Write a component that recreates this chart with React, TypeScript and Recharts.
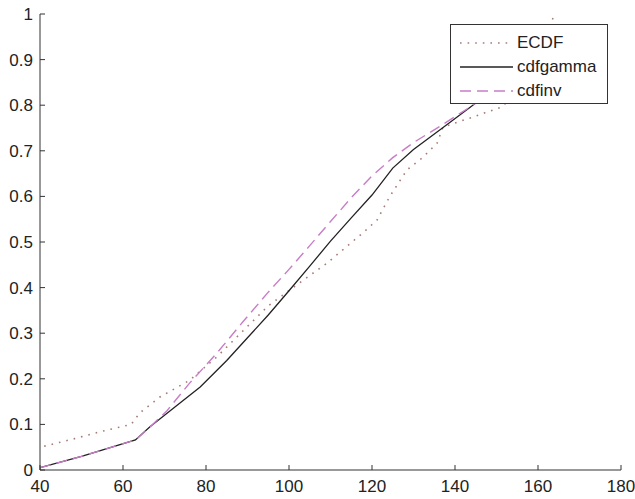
import React from 'react'
import { Legend, Line, LineChart, XAxis, YAxis } from 'recharts'

// ECDF (it runs under the legend past ~150)
const ecdfX = [41, 48, 54.5, 62, 64, 68.9, 76.1, 82.6, 89.9, 95, 100.2, 109.2, 117.8, 121.2, 124.3, 128.4, 132.3, 135.7, 137.1, 144.3, 147.7, 151.3, 157, 161, 164]
const ecdfY = [0.052, 0.068, 0.084, 0.1, 0.125, 0.16, 0.197, 0.248, 0.314, 0.36, 0.395, 0.454, 0.52, 0.548, 0.6, 0.658, 0.686, 0.717, 0.752, 0.774, 0.785, 0.796, 0.85, 0.93, 1]

const gammaX = [40, 50, 63, 66.5, 70, 78.6, 85, 90, 95, 100, 105, 110, 115, 120, 125, 130, 136.4, 144.3, 150, 160, 165]
const gammaY = [0.005, 0.03, 0.066, 0.095, 0.12, 0.182, 0.24, 0.29, 0.34, 0.393, 0.447, 0.502, 0.553, 0.603, 0.662, 0.703, 0.746, 0.8, 0.84, 0.9, 0.925]

const invX = [40, 50, 63, 66, 70.6, 76, 82.6, 88.9, 95, 100, 105, 110, 115, 120, 125, 130, 136.4, 144.3, 150, 160, 165]
const invY = [0.005, 0.03, 0.066, 0.09, 0.13, 0.19, 0.256, 0.325, 0.39, 0.44, 0.492, 0.545, 0.597, 0.645, 0.685, 0.718, 0.754, 0.8, 0.84, 0.91, 0.94]

const xTicks = [40, 60, 80, 100, 120, 140, 160, 180]
const yTicks = [0, 0.1, 0.2, 0.3, 0.4, 0.5, 0.6, 0.7, 0.8, 0.9, 1]

const zip = (xs: number[], ys: number[]) => xs.map((x, i) => ({ x, y: ys[i] }))

const series = [
  { name: 'ECDF', data: zip(ecdfX, ecdfY), color: '#a67c78', dash: '1.6 6', width: 1.6 },
  { name: 'cdfgamma', data: zip(gammaX, gammaY), color: '#222', dash: undefined, width: 1.3 },
  { name: 'cdfinv', data: zip(invX, invY), color: '#c77dc7', dash: '11 6', width: 1.4 },
]

const font = '"Liberation Sans", Arial, sans-serif'
const ink = '#333'
const tickStyle = { fill: '#222', fontSize: 17, fontFamily: font }

// MATLAB-style legend: boxed, white, sits over the curves
function BoxLegend() {
  return (
    <div
      style={{
        boxSizing: 'border-box',
        width: 158,
        height: 80,
        border: `1.5px solid ${ink}`,
        background: '#fff',
        padding: '6px 0 0 9px',
        fontFamily: font,
        fontSize: 17,
        color: '#222',
      }}
    >
      {series.map((s) => (
        <div key={s.name} style={{ display: 'flex', alignItems: 'center', height: 24 }}>
          <svg width={53} height={10} style={{ marginRight: 4 }}>
            <line x1={0} x2={53} y1={5} y2={5} stroke={s.color} strokeWidth={s.width} strokeDasharray={s.dash} />
          </svg>
          <span>{s.name}</span>
        </div>
      ))}
    </div>
  )
}

export default function App() {
  return (
    <div style={{ position: 'absolute', left: 0, top: 0, width: 635, height: 499, background: '#fff' }}>
      <LineChart width={635} height={499} margin={{ top: 14, right: 14, bottom: 0, left: 0 }}>
        <XAxis
          xAxisId="b"
          type="number"
          dataKey="x"
          domain={[40, 180]}
          ticks={xTicks}
          interval={0}
          allowDataOverflow
          height={29}
          tickSize={-5}
          tickMargin={15}
          stroke={ink}
          tick={tickStyle}
        />
        <XAxis
          xAxisId="t"
          orientation="top"
          type="number"
          domain={[40, 180]}
          ticks={xTicks}
          interval={0}
          height={0}
          tickSize={-5}
          stroke={ink}
          tickFormatter={() => ''}
        />
        <YAxis
          yAxisId="l"
          type="number"
          dataKey="y"
          domain={[0, 1]}
          ticks={yTicks}
          interval={0}
          allowDataOverflow
          width={40}
          tickSize={-5}
          tickMargin={12}
          stroke={ink}
          tick={tickStyle}
        />
        <YAxis
          yAxisId="r"
          orientation="right"
          type="number"
          domain={[0, 1]}
          ticks={yTicks}
          interval={0}
          width={0}
          tickSize={-5}
          stroke={ink}
          tickFormatter={() => ''}
        />
        {series.map((s) => (
          <Line
            key={s.name}
            xAxisId="b"
            yAxisId="l"
            data={s.data}
            dataKey="y"
            name={s.name}
            type="linear"
            stroke={s.color}
            strokeWidth={s.width}
            strokeDasharray={s.dash}
            dot={false}
            activeDot={false}
            isAnimationActive={false}
          />
        ))}
        <Legend
          layout="horizontal"
          verticalAlign="middle"
          align="center"
          wrapperStyle={{ left: 450, top: 24, width: 158 }}
          content={() => <BoxLegend />}
        />
      </LineChart>
    </div>
  )
}
